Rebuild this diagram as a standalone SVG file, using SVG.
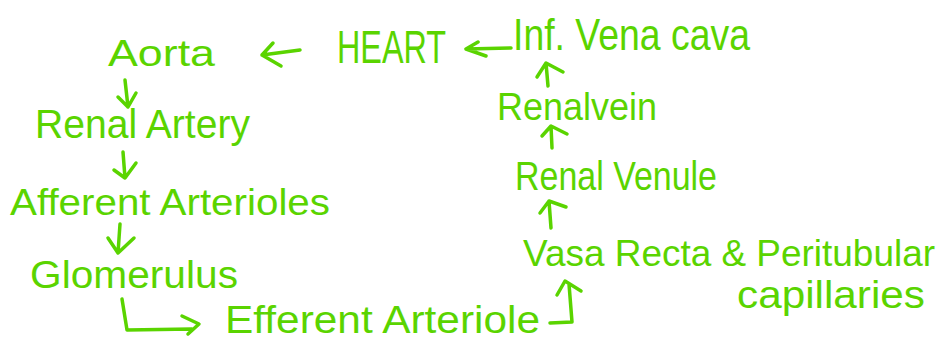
<svg xmlns="http://www.w3.org/2000/svg" width="939" height="346" viewBox="0 0 939 346">
<defs>
<style>
.t{font-family:"Liberation Sans","Open Sans",sans-serif;fill:#5ad400;font-size:36px}
.c{fill:none;stroke:#5ad400;stroke-width:3.5;stroke-linecap:round;stroke-linejoin:round}
</style>
</defs>
<rect width="939" height="346" fill="#fff"/>
<g id="aorta"><text class="t" x="108" y="66" textLength="107" lengthAdjust="spacingAndGlyphs">Aorta</text></g>
<g id="heart"><text class="t" x="337" y="63" style="font-size:46px" textLength="109" lengthAdjust="spacingAndGlyphs">HEART</text></g>
<g id="ivc"><text class="t" x="513" y="50" style="font-size:44px" textLength="237" lengthAdjust="spacingAndGlyphs">Inf. Vena cava</text></g>
<g id="renal-vein"><text class="t" x="497" y="120" style="font-size:38px" textLength="160" lengthAdjust="spacingAndGlyphs">Renalvein</text></g>
<g id="renal-venule"><text class="t" x="515" y="190" style="font-size:40px" textLength="202" lengthAdjust="spacingAndGlyphs">Renal Venule</text></g>
<g id="renal-artery"><text class="t" x="35" y="138" style="font-size:40px" textLength="215" lengthAdjust="spacingAndGlyphs">Renal Artery</text></g>
<g id="afferent"><text class="t" x="10" y="215" textLength="320" lengthAdjust="spacingAndGlyphs">Afferent Arterioles</text></g>
<g id="glomerulus"><text class="t" x="30" y="288" style="font-size:38px" textLength="208" lengthAdjust="spacingAndGlyphs">Glomerulus</text></g>
<g id="efferent"><text class="t" x="225" y="333" style="font-size:38px" textLength="315" lengthAdjust="spacingAndGlyphs">Efferent Arteriole</text></g>
<g id="vasa-recta">
<text class="t" x="523" y="266" textLength="412" lengthAdjust="spacingAndGlyphs">Vasa Recta &amp; Peritubular</text>
<text class="t" x="737" y="308" style="font-size:38px" textLength="188" lengthAdjust="spacingAndGlyphs">capillaries</text>
</g>
<g id="connectors">
<path class="c" d="M300 50 L262 55 M273 43 L262 55 L281 66"/>
<path class="c" d="M511 48 L466 49 M478 42 L466 49 L486 56"/>
<path class="c" d="M125 80 L128 107 M118 97 L128 107 L136 93"/>
<path class="c" d="M123 152 L125 178 M114 170 L125 178 L136 163"/>
<path class="c" d="M120 224 L118 253 M108 238 L118 253 L134 238"/>
<path class="c" d="M122 299 L127 330 L192 329 M182 316 L199 324 L188 334"/>
<path class="c" d="M550 323 L572 322 L569 284 M557 295 L565 281 L581 291"/>
<path class="c" d="M551 228 L549 201 M540 213 L549 201 L566 207"/>
<path class="c" d="M552 148 L551 126 M542 136 L551 126 L567 134"/>
<path class="c" d="M548 86 L546 63 M537 77 L546 63 L563 72"/>
</g>
</svg>
